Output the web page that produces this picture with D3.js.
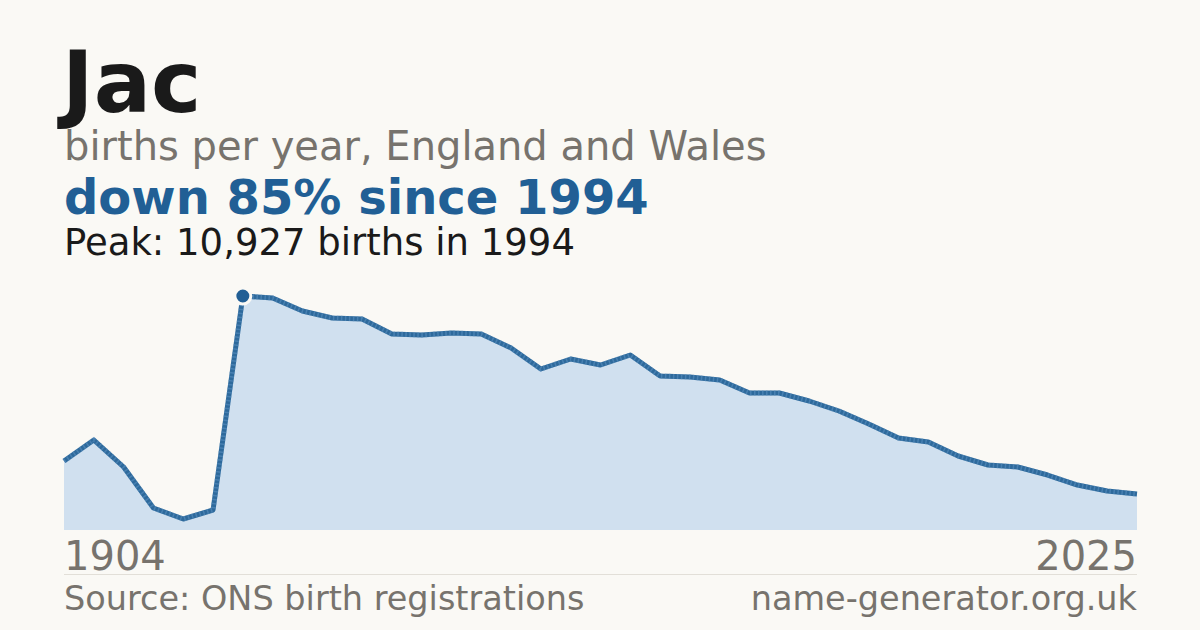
<!DOCTYPE html>
<html><head><meta charset="utf-8">
<script src="https://cdn.jsdelivr.net/npm/d3@7"></script>
<style>body{margin:0;background:#faf9f5;}svg{display:block;font-family:"DejaVu Sans",sans-serif;}</style>
</head><body><svg id="c" width="1200" height="630"></svg>
<script>
const idx = d3.range(37);
const values = [3222,4203,2942,1027,514,934,10927,10834,10226,9900,9853,9153,9106,9200,9153,8499,7518,7985,7705,8172,7191,7145,7005,6398,6398,6024,5557,4950,4296,4109,3455,3035,2942,2568,2101,1821,1680];
const tickLabels = ["1904","2025"];
const peakIndex = 6;

const svg = d3.select("#c");
svg.append("rect").attr("width",1200).attr("height",630).attr("fill","#faf9f5");
const x = d3.scaleLinear().domain([0,36]).range([64,1137]);
const y = d3.scaleLinear().domain([0,10927]).range([530,296]);

svg.append("text").attr("x",62).attr("y",112).attr("font-size",85).attr("font-weight","bold").attr("fill","#1a1a1a").text("Jac");
svg.append("text").attr("x",64).attr("y",160).attr("font-size",40).attr("fill","#77736d").text("births per year, England and Wales");
svg.append("text").attr("x",64).attr("y",214).attr("font-size",48).attr("font-weight","bold").attr("fill","#215f95").text("down 85% since 1994");
svg.append("text").attr("x",64).attr("y",255).attr("font-size",37).attr("fill","#1a1a1a").text("Peak: 10,927 births in 1994");

svg.append("path").datum(values)
  .attr("d",d3.area().x((d,i)=>x(i)).y0(530).y1(d=>y(d)))
  .attr("fill","#d0e0ef");
svg.append("path").datum(values)
  .attr("d",d3.line().x((d,i)=>x(i)).y(d=>y(d)))
  .attr("fill","none").attr("stroke","#2e6a9c").attr("stroke-width",5).attr("stroke-linejoin","round");
svg.append("path").datum(values)
  .attr("d",d3.line().x((d,i)=>x(i)).y(d=>y(d)))
  .attr("fill","none").attr("stroke","#5a8fbf").attr("stroke-width",5).attr("stroke-dasharray","1.5 2.5").attr("opacity",0.6);
svg.append("circle").attr("cx",x(peakIndex)).attr("cy",y(values[peakIndex])).attr("r",8).attr("fill","#215f95").attr("stroke","#faf9f5").attr("stroke-width",3);

svg.append("text").attr("x",64).attr("y",570).attr("font-size",40).attr("fill","#77736d").text(tickLabels[0]);
svg.append("text").attr("x",1137).attr("y",570).attr("text-anchor","end").attr("font-size",40).attr("fill","#77736d").text(tickLabels[1]);
svg.append("line").attr("x1",64).attr("x2",1137).attr("y1",574.5).attr("y2",574.5).attr("stroke","#e2dfd8");
svg.append("text").attr("x",64).attr("y",610).attr("font-size",33.5).attr("fill","#77736d").text("Source: ONS birth registrations");
svg.append("text").attr("x",1137).attr("y",610).attr("text-anchor","end").attr("font-size",33.5).attr("fill","#77736d").text("name-generator.org.uk");
</script></body></html>
